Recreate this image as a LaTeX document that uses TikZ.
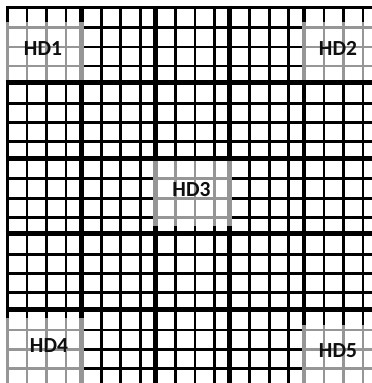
\documentclass[tikz,border=0pt]{standalone}
\usepackage{fontspec}
\setmainfont{Carlito}
\definecolor{hdgray}{RGB}{150,150,150}
\definecolor{hdtext}{RGB}{15,15,15}
\begin{document}
\begin{tikzpicture}[x=1pt,y=-1pt,
  thinblk/.style={line width=2.8pt,black},
  thickblk/.style={line width=4.8pt,black},
  edgeblk/.style={line width=3pt,black},
  thingry/.style={line width=2.8pt,hdgray},
  thickgry/.style={line width=4.8pt,hdgray},
  edgegry/.style={line width=3pt,hdgray},
  blank/.style={fill=white,draw=none},
  lbl/.style={font=\fontsize{21.5}{25}\selectfont\bfseries,text=hdtext,inner sep=0pt}]
\useasboundingbox (0,0) rectangle (372,383);
\begin{scope}
\clip (0,0) rectangle (372,383);
% ---- black grid ----
% thin verticals
\foreach \x in {27,46.5,66,101.25,120.75,140.25,175.5,195,214.5,249.75,269.25,288.75,324,343.5,363}
  \draw[thinblk] (\x,7) -- (\x,383);
% thin horizontals
\foreach \y in {27.5,47,66,103.1,122.6,141.6,178.7,198.2,217.2,254.3,273.8,292.8,329.9,349.4,368.4}
  \draw[thinblk] (7,\y) -- (372,\y);
% thick verticals
\foreach \x in {81.25,155.5,229.75,304}
  \draw[thickblk] (\x,5.5) -- (\x,383);
% border lines
\draw[edgeblk] (7,5.5) -- (7,383);
\draw[edgeblk] (5.5,7) -- (372,7);
% ---- gray boxes ----
% HD1
\fill[blank] (5.5,22) rectangle (83.7,82.6);
\foreach \y in {27.5,47,66} \draw[thingry] (7,\y) -- (81.25,\y);
\foreach \x in {27,46.5,66} \draw[thingry] (\x,22) -- (\x,82.6);
\draw[edgegry] (7,22) -- (7,82.6);
\draw[thickgry] (81.25,22) -- (81.25,82.6);
% HD2
\fill[blank] (301.6,22) rectangle (372,82.6);
\foreach \y in {27.5,47,66} \draw[thingry] (304,\y) -- (372,\y);
\foreach \x in {324,343.5,363} \draw[thingry] (\x,22) -- (\x,82.6);
\draw[thickgry] (304,22) -- (304,82.6);
% HD3
\fill[blank] (153.1,158.2) rectangle (232.2,226);
\foreach \y in {178.7,198.2,217.2} \draw[thingry] (155.5,\y) -- (229.75,\y);
\foreach \x in {175.5,195,214.5} \draw[thingry] (\x,158.2) -- (\x,226);
\draw[thickgry] (155.5,158.2) -- (155.5,226);
\draw[thickgry] (229.75,158.2) -- (229.75,226);
% HD4
\fill[blank] (5.5,318) rectangle (83.7,383);
\foreach \y in {329.9,349.4,368.4} \draw[thingry] (7,\y) -- (81.25,\y);
\foreach \x in {27,46.5,66} \draw[thingry] (\x,318) -- (\x,383);
\draw[edgegry] (7,318) -- (7,383);
\draw[thickgry] (81.25,318) -- (81.25,383);
% HD5
\fill[blank] (301.6,325) rectangle (372,383);
\foreach \y in {329.9,349.4,368.4} \draw[thingry] (304,\y) -- (372,\y);
\foreach \x in {324,343.5,363} \draw[thingry] (\x,325) -- (\x,383);
\draw[thickgry] (304,325) -- (304,383);
% ---- thick horizontals on top ----
\foreach \y in {82.6,158.2,233.8,309.4}
  \draw[thickblk] (5.5,\y) -- (372,\y);
\end{scope}
% ---- labels ----
\node[lbl] (hd1) at (43,48.5) {HD1};
\node[lbl] (hd2) at (338,48.5) {HD2};
\node[lbl] (hd3) at (191.5,190) {HD3};
\node[lbl] (hd4) at (49,346) {HD4};
\node[lbl] (hd5) at (338,350.5) {HD5};
\end{tikzpicture}
\end{document}
